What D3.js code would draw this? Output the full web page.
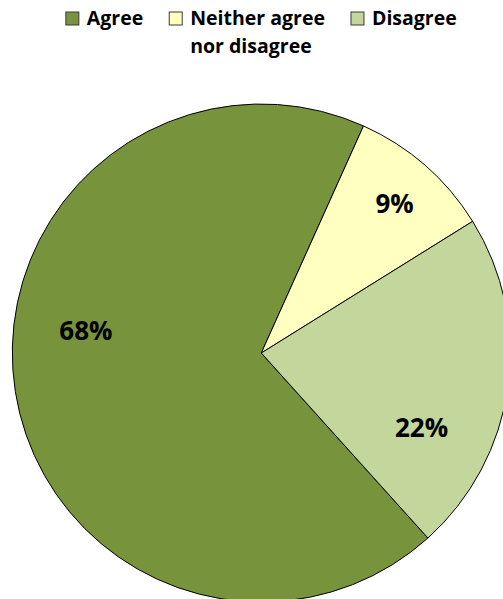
<!DOCTYPE html>
<html>
<head>
<meta charset="utf-8">
<script src="https://cdn.jsdelivr.net/npm/d3@7"></script>
<style>
    body { margin: 0; background: #fff; }
    svg { display: block; font-family: "Open Sans", sans-serif; }
</style>
</head>
<body>
<div id="chart"></div>
<script>
// values (labels in the chart are rounded)
const categories = ["Agree", "Neither agree nor disagree", "Disagree"];
const shares = [68.4, 9.4, 22.2];
const legendLines = [["Agree"], ["Neither agree", "nor disagree"], ["Disagree"]];
const colours = ["#77933C", "#FFFFC0", "#C3D69B"];

// label placement: angle shift from the slice middle (deg) and radius fraction
const labelShift = [16, 0.5, 17];
const labelRadius = [0.71, 0.805, 0.71];

const width = 503, height = 599;
const cx = 261.3, cy = 353, radius = 249;
const startDeg = 138;

const svg = d3.select("#chart").append("svg")
    .attr("width", width)
    .attr("height", height);

const data = categories.map((c, i) => ({ name: c, value: shares[i], idx: i }));

const pie = d3.pie()
    .sort(null)
    .value(d => d.value)
    .startAngle(startDeg * Math.PI / 180)
    .endAngle((startDeg + 360) * Math.PI / 180);

const arc = d3.arc().innerRadius(0).outerRadius(radius);

const pieG = svg.append("g").attr("transform", `translate(${cx},${cy})`);

const arcs = pie(data);

pieG.selectAll("path")
    .data(arcs)
    .join("path")
    .attr("d", arc)
    .attr("fill", d => colours[d.data.idx])
    .attr("stroke", "#000")
    .attr("stroke-width", 1)
    .attr("stroke-linejoin", "round");

pieG.selectAll("text")
    .data(arcs)
    .join("text")
    .attr("transform", d => {
        const a = (d.startAngle + d.endAngle) / 2 + labelShift[d.data.idx] * Math.PI / 180;
        const r = radius * labelRadius[d.data.idx];
        return `translate(${r * Math.sin(a)},${-r * Math.cos(a)})`;
    })
    .attr("text-anchor", "middle")
    .attr("dy", "0.36em")
    .attr("font-size", 26)
    .attr("font-weight", "bold")
    .attr("fill", "#000")
    .text(d => Math.round(d.data.value) + "%");

// legend
const legend = svg.append("g");
const box = 13, boxGap = 8, itemGap = 26, lineH = 28, baseY = 25;

let x = 0;
const items = legend.selectAll("g.item")
    .data(data)
    .join("g")
    .attr("class", "item");

items.each(function (d) {
    const g = d3.select(this);
    g.append("rect")
        .attr("x", 0)
        .attr("y", baseY - box)
        .attr("width", box)
        .attr("height", box)
        .attr("fill", colours[d.idx])
        .attr("stroke", "#3a3a3a")
        .attr("stroke-width", 1);
    const t = g.append("text")
        .attr("x", box + boxGap)
        .attr("y", baseY)
        .attr("font-size", 19.5)
        .attr("font-weight", "bold")
        .attr("fill", "#000");
    legendLines[d.idx].forEach((line, j) => {
        t.append("tspan")
            .attr("x", box + boxGap)
            .attr("y", baseY + j * lineH)
            .text(line);
    });
    const w = d3.max(t.selectAll("tspan").nodes(), n => n.getComputedTextLength());
    g.attr("transform", `translate(${x},0)`);
    x += box + boxGap + w + itemGap;
});

const legendW = x - itemGap;
legend.attr("transform", `translate(${cx - legendW / 2},0)`);
</script>
</body>
</html>
